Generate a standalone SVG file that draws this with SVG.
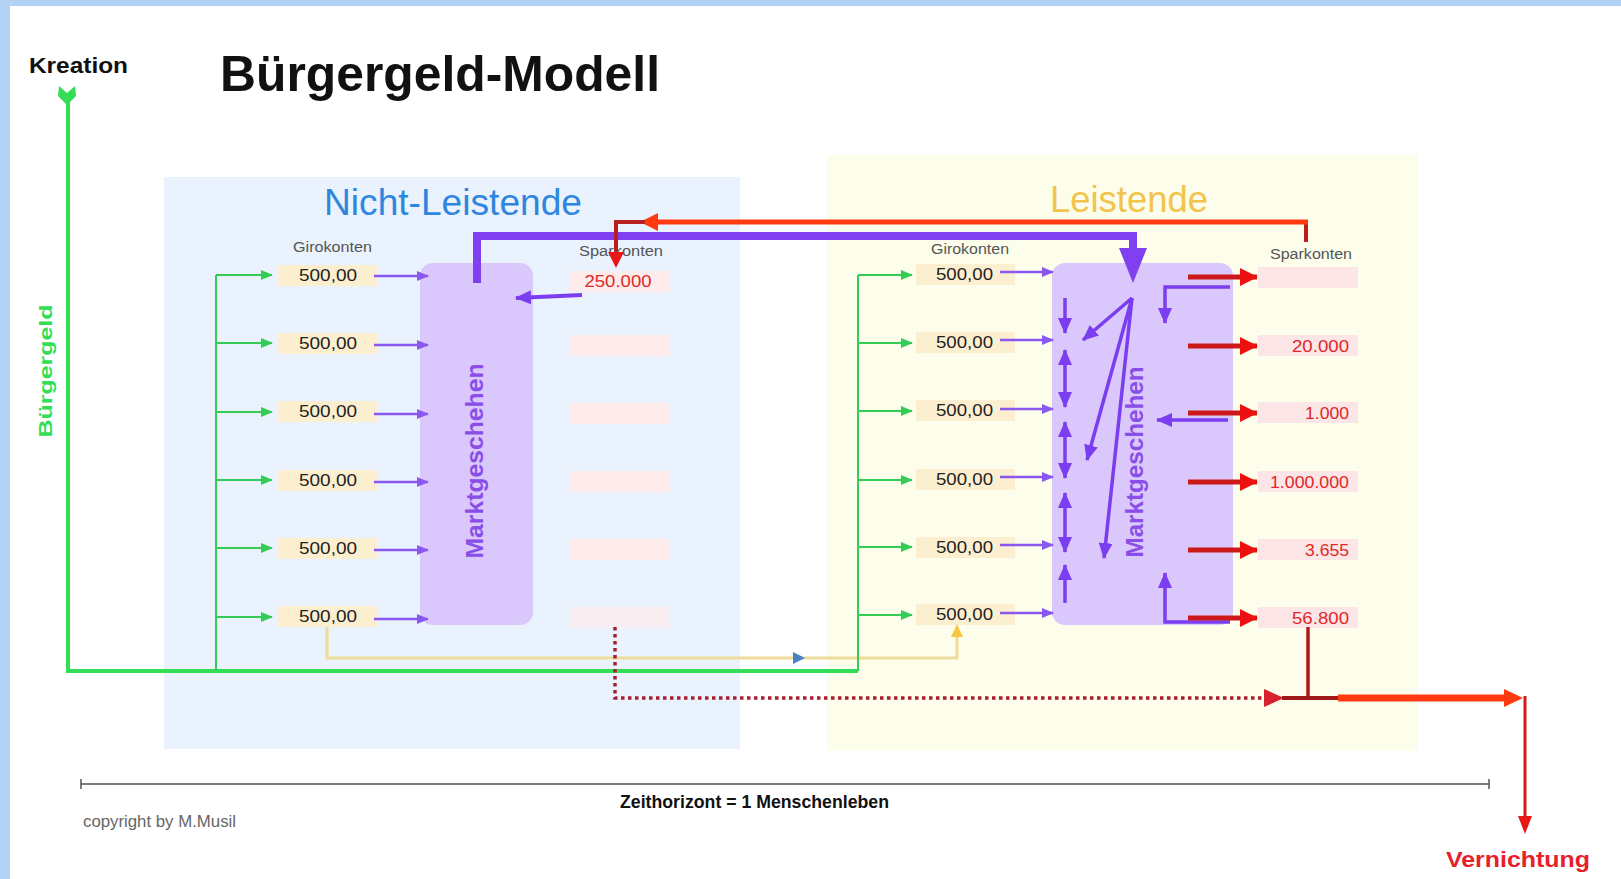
<svg xmlns="http://www.w3.org/2000/svg" width="1621" height="879" viewBox="0 0 1621 879">
<style>
.t{font-family:"Liberation Sans",Arial,sans-serif}
.b{font-weight:bold}
.giro{font-size:14px;fill:#555}
.val{font-size:17px;fill:#222}
.sp{font-size:17px;fill:#e02828}
.beige{fill:#fcefcf}
.pink{fill:#fdeceb}
.pinkR{fill:#fbe5e7}
.g1{stroke:#33cc55;stroke-width:2;fill:none}
.pIn{stroke:#8a58ee;stroke-width:2.5;fill:none}
.pInt{stroke:#7a3df0;stroke-width:3.5;fill:none}
.rA{stroke:#cc1818;stroke-width:5;fill:none}
</style>
<defs>
<marker id="gA" markerUnits="userSpaceOnUse" markerWidth="12" markerHeight="10" refX="11" refY="5" orient="auto"><path d="M0,0 L12,5 L0,10 z" fill="#33cc55"/></marker>
<marker id="pA" markerUnits="userSpaceOnUse" markerWidth="12" markerHeight="10" refX="11" refY="5" orient="auto"><path d="M0,0 L12,5 L0,10 z" fill="#8a58ee"/></marker>
<marker id="pB" markerUnits="userSpaceOnUse" markerWidth="16" markerHeight="14" refX="15" refY="7" orient="auto-start-reverse"><path d="M0,0 L16,7 L0,14 z" fill="#7a3df0"/></marker>
<marker id="rA" markerUnits="userSpaceOnUse" markerWidth="18" markerHeight="18" refX="17" refY="9" orient="auto"><path d="M0,0 L18,9 L0,18 z" fill="#ee1010"/></marker>
<marker id="tick" markerUnits="userSpaceOnUse" markerWidth="2" markerHeight="10" refX="1" refY="5" orient="auto"><path d="M1,0 V10" stroke="#555" stroke-width="1.5"/></marker>
</defs>

<rect width="1621" height="879" fill="#ffffff"/>
<rect x="0" y="0" width="1621" height="6" fill="#b3d1f5"/>
<rect x="0" y="0" width="10" height="879" fill="#b3d1f5"/>

<g id="panel-nicht-leistende">
<rect x="164" y="177" width="576" height="572" fill="#eaf2fd"/>
<text class="t" x="324" y="215" font-size="36" fill="#2f86de" textLength="258" lengthAdjust="spacingAndGlyphs">Nicht-Leistende</text>
</g>
<g id="panel-leistende">
<rect x="827" y="155" width="591" height="596" fill="#fdfdeb"/>
<text class="t" x="1050" y="212" font-size="36" fill="#f2c44c" textLength="158" lengthAdjust="spacingAndGlyphs">Leistende</text>
</g>

<g id="title">
<text class="t b" x="220" y="91" font-size="50" fill="#111" textLength="440" lengthAdjust="spacingAndGlyphs">Bürgergeld-Modell</text>
</g>
<g id="kreation">
<text class="t b" x="29" y="73" font-size="22" fill="#111" textLength="99" lengthAdjust="spacingAndGlyphs">Kreation</text>
</g>
<g id="buergergeld-label">
<text class="t b" transform="translate(52,371) rotate(-90)" text-anchor="middle" font-size="18" fill="#33dd55" textLength="133" lengthAdjust="spacingAndGlyphs">Bürgergeld</text>
</g>

<g id="left-accounts">
<text class="t giro" x="293" y="252" textLength="79" lengthAdjust="spacingAndGlyphs">Girokonten</text>
<rect class="beige" x="278" y="265" width="100" height="21"/>
<rect class="beige" x="278" y="333" width="100" height="21"/>
<rect class="beige" x="278" y="401" width="100" height="21"/>
<rect class="beige" x="278" y="470" width="100" height="21"/>
<rect class="beige" x="278" y="538" width="100" height="21"/>
<rect class="beige" x="278" y="606" width="100" height="21"/>
<text class="t val" x="299" y="281" textLength="58" lengthAdjust="spacingAndGlyphs">500,00</text>
<text class="t val" x="299" y="349" textLength="58" lengthAdjust="spacingAndGlyphs">500,00</text>
<text class="t val" x="299" y="417" textLength="58" lengthAdjust="spacingAndGlyphs">500,00</text>
<text class="t val" x="299" y="486" textLength="58" lengthAdjust="spacingAndGlyphs">500,00</text>
<text class="t val" x="299" y="554" textLength="58" lengthAdjust="spacingAndGlyphs">500,00</text>
<text class="t val" x="299" y="622" textLength="58" lengthAdjust="spacingAndGlyphs">500,00</text>
</g>

<g id="left-savings">
<text class="t giro" x="579" y="256" textLength="84" lengthAdjust="spacingAndGlyphs">Sparkonten</text>
<rect class="pink" x="569" y="271" width="100" height="21"/>
<rect class="pink" x="569" y="335" width="100" height="21"/>
<rect class="pink" x="569" y="403" width="100" height="21"/>
<rect class="pink" x="569" y="471" width="100" height="21"/>
<rect class="pink" x="569" y="539" width="100" height="21"/>
<rect class="pink" x="569" y="607" width="100" height="21" opacity="0.7"/>
<text class="t sp" x="618" y="287" text-anchor="middle" textLength="67" lengthAdjust="spacingAndGlyphs">250.000</text>
</g>

<g id="left-market">
<rect x="420" y="263" width="113" height="362" rx="13" fill="#dac7fb"/>
<text class="t b" transform="translate(483,461) rotate(-90)" text-anchor="middle" font-size="24" fill="#8a4ee8" textLength="195" lengthAdjust="spacingAndGlyphs">Marktgeschehen</text>
</g>

<g id="right-accounts">
<text class="t giro" x="931" y="254" textLength="78" lengthAdjust="spacingAndGlyphs">Girokonten</text>
<rect class="beige" x="916" y="264" width="99" height="21"/>
<rect class="beige" x="916" y="332" width="99" height="21"/>
<rect class="beige" x="916" y="400" width="99" height="21"/>
<rect class="beige" x="916" y="469" width="99" height="21"/>
<rect class="beige" x="916" y="537" width="99" height="21"/>
<rect class="beige" x="916" y="604" width="99" height="21"/>
<text class="t val" x="936" y="280" textLength="57" lengthAdjust="spacingAndGlyphs">500,00</text>
<text class="t val" x="936" y="348" textLength="57" lengthAdjust="spacingAndGlyphs">500,00</text>
<text class="t val" x="936" y="416" textLength="57" lengthAdjust="spacingAndGlyphs">500,00</text>
<text class="t val" x="936" y="485" textLength="57" lengthAdjust="spacingAndGlyphs">500,00</text>
<text class="t val" x="936" y="553" textLength="57" lengthAdjust="spacingAndGlyphs">500,00</text>
<text class="t val" x="936" y="620" textLength="57" lengthAdjust="spacingAndGlyphs">500,00</text>
</g>

<g id="right-market">
<rect x="1052" y="263" width="181" height="362" rx="13" fill="#dac7fb"/>
<text class="t b" transform="translate(1143,462) rotate(-90)" text-anchor="middle" font-size="24" fill="#8a4ee8" textLength="191" lengthAdjust="spacingAndGlyphs">Marktgeschehen</text>
</g>

<g id="right-savings">
<text class="t giro" x="1270" y="259" textLength="82" lengthAdjust="spacingAndGlyphs">Sparkonten</text>
<rect class="pinkR" x="1258" y="267" width="100" height="21"/>
<rect class="pinkR" x="1258" y="335" width="100" height="21"/>
<rect class="pinkR" x="1258" y="402" width="100" height="21"/>
<rect class="pinkR" x="1258" y="471" width="100" height="21"/>
<rect class="pinkR" x="1258" y="539" width="100" height="21"/>
<rect class="pinkR" x="1258" y="607" width="100" height="21"/>
<text class="t sp" x="1349" y="352" text-anchor="end" textLength="57" lengthAdjust="spacingAndGlyphs">20.000</text>
<text class="t sp" x="1349" y="419" text-anchor="end" textLength="44" lengthAdjust="spacingAndGlyphs">1.000</text>
<text class="t sp" x="1349" y="488" text-anchor="end" textLength="79" lengthAdjust="spacingAndGlyphs">1.000.000</text>
<text class="t sp" x="1349" y="556" text-anchor="end" textLength="44" lengthAdjust="spacingAndGlyphs">3.655</text>
<text class="t sp" x="1349" y="624" text-anchor="end" textLength="57" lengthAdjust="spacingAndGlyphs">56.800</text>
</g>

<g id="vernichtung">
<text class="t b" x="1446" y="867" font-size="22" fill="#e8202a" textLength="144" lengthAdjust="spacingAndGlyphs">Vernichtung</text>
</g>

<g id="zeithorizont">
<text class="t b" x="620" y="808" font-size="18" fill="#111" textLength="269" lengthAdjust="spacingAndGlyphs">Zeithorizont = 1 Menschenleben</text>
</g>
<g id="copyright">
<text class="t" x="83" y="827" font-size="16" fill="#666" textLength="153" lengthAdjust="spacingAndGlyphs">copyright by M.Musil</text>
</g>

<g id="connectors">
<path d="M81,784 H1489" stroke="#555" stroke-width="1.5" marker-start="url(#tick)" marker-end="url(#tick)"/>

<path d="M327,627 V658 H957 V634" stroke="#f0dc9a" stroke-width="3" fill="none"/>
<path d="M951,637 L957,624 L963,637 z" fill="#f5c842"/>
<path d="M793,652 L805,658 L793,664 z" fill="#4a80c4"/>

<path d="M68,95 V671 H858" stroke="#33dd55" stroke-width="4" fill="none"/>
<path d="M59,86 L67,93 L75,86 L76,96 L67,105 L58,96 z" fill="#33dd55"/>
<path class="g1" d="M216,671 V275"/>
<path class="g1" d="M858,671 V275"/>
<path class="g1" d="M216,275 H272" marker-end="url(#gA)"/>
<path class="g1" d="M216,343 H272" marker-end="url(#gA)"/>
<path class="g1" d="M216,412 H272" marker-end="url(#gA)"/>
<path class="g1" d="M216,480 H272" marker-end="url(#gA)"/>
<path class="g1" d="M216,548 H272" marker-end="url(#gA)"/>
<path class="g1" d="M216,617 H272" marker-end="url(#gA)"/>
<path class="g1" d="M858,275 H912" marker-end="url(#gA)"/>
<path class="g1" d="M858,343 H912" marker-end="url(#gA)"/>
<path class="g1" d="M858,411 H912" marker-end="url(#gA)"/>
<path class="g1" d="M858,480 H912" marker-end="url(#gA)"/>
<path class="g1" d="M858,547 H912" marker-end="url(#gA)"/>
<path class="g1" d="M858,615 H912" marker-end="url(#gA)"/>

<path class="pIn" d="M374,276 H428" marker-end="url(#pA)"/>
<path class="pIn" d="M374,345 H428" marker-end="url(#pA)"/>
<path class="pIn" d="M374,414 H428" marker-end="url(#pA)"/>
<path class="pIn" d="M374,482 H428" marker-end="url(#pA)"/>
<path class="pIn" d="M374,550 H428" marker-end="url(#pA)"/>
<path class="pIn" d="M374,619 H428" marker-end="url(#pA)"/>
<path class="pIn" d="M1000,272 H1053" marker-end="url(#pA)"/>
<path class="pIn" d="M1000,340 H1053" marker-end="url(#pA)"/>
<path class="pIn" d="M1000,409 H1053" marker-end="url(#pA)"/>
<path class="pIn" d="M1000,477 H1053" marker-end="url(#pA)"/>
<path class="pIn" d="M1000,545 H1053" marker-end="url(#pA)"/>
<path class="pIn" d="M1000,613 H1053" marker-end="url(#pA)"/>

<path d="M477,283 V236 H1133 V252" stroke="#8040f0" stroke-width="8" fill="none"/>
<path d="M1119,248 L1147,248 L1133,283 z" fill="#8040f0"/>

<path d="M582,295 L516,298" stroke="#7a3df0" stroke-width="4" fill="none" marker-end="url(#pB)"/>

<path class="pInt" d="M1065,298 V333" marker-end="url(#pB)"/>
<path class="pInt" d="M1065,350 V407" marker-start="url(#pB)" marker-end="url(#pB)"/>
<path class="pInt" d="M1065,422 V478" marker-start="url(#pB)" marker-end="url(#pB)"/>
<path class="pInt" d="M1065,493 V552" marker-start="url(#pB)" marker-end="url(#pB)"/>
<path class="pInt" d="M1065,603 V565" marker-end="url(#pB)"/>
<path class="pInt" d="M1132,298 L1083,340" marker-end="url(#pB)"/>
<path class="pInt" d="M1132,298 L1087,460" marker-end="url(#pB)"/>
<path class="pInt" d="M1132,298 L1104,558" marker-end="url(#pB)"/>
<path class="pInt" d="M1230,287 H1165 V323" marker-end="url(#pB)"/>
<path class="pInt" d="M1228,420 H1157" marker-end="url(#pB)"/>
<path class="pInt" d="M1230,622 H1165 V573" marker-end="url(#pB)"/>

<path class="rA" d="M1188,277 H1257" marker-end="url(#rA)"/>
<path class="rA" d="M1188,346 H1257" marker-end="url(#rA)"/>
<path class="rA" d="M1188,413 H1257" marker-end="url(#rA)"/>
<path class="rA" d="M1188,482 H1257" marker-end="url(#rA)"/>
<path class="rA" d="M1188,550 H1257" marker-end="url(#rA)"/>
<path class="rA" d="M1188,618 H1257" marker-end="url(#rA)"/>

<path d="M1306,242 V222" stroke="#b82020" stroke-width="4" fill="none"/>
<path d="M1308,222 H650" stroke="#ff3a10" stroke-width="5" fill="none"/>
<path d="M640,222 L658,213 L658,231 z" fill="#ff3a10"/>
<path d="M645,222 H616 V253" stroke="#b82020" stroke-width="4" fill="none"/>
<path d="M608,252 L624,252 L616,268 z" fill="#e81818"/>

<path d="M615,627 V698 H1268" stroke="#a82030" stroke-width="3.5" stroke-dasharray="3.5,3.5" fill="none"/>
<path d="M1264,689 L1284,698 L1264,707 z" fill="#d82030"/>
<path d="M1308,627 V698" stroke="#b01818" stroke-width="3.5" fill="none"/>
<path d="M1282,698 H1342" stroke="#a01818" stroke-width="4" fill="none"/>
<path d="M1338,698 H1508" stroke="#ff3a10" stroke-width="7" fill="none"/>
<path d="M1504,689 L1523,698 L1504,707 z" fill="#ff3a10"/>
<path d="M1525,696 V818" stroke="#d81a1a" stroke-width="3" fill="none"/>
<path d="M1518,816 L1532,816 L1525,834 z" fill="#e81818"/>
</g>
</svg>
